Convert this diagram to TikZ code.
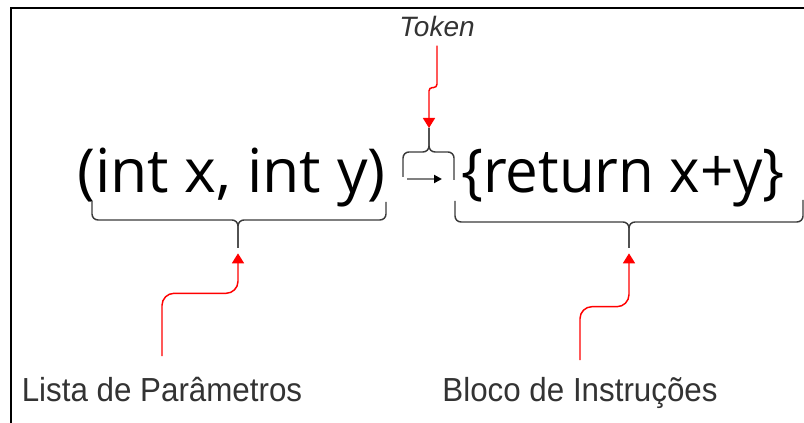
\documentclass[tikz,border=0pt]{standalone}
\usepackage{fontspec}
\setmainfont{Liberation Sans}
\newfontfamily\codefont{Open Sans}
\usetikzlibrary{arrows.meta}
\definecolor{inkgray}{HTML}{333333}
\definecolor{bracegray}{HTML}{3A3A3A}
\definecolor{pointred}{HTML}{FF0000}
\tikzset{
  codetext/.style={font=\codefont\fontsize{45.5pt}{54pt}\selectfont, inner sep=0pt, text=black},
  labeltext/.style={font=\fontsize{25pt}{30pt}\selectfont, inner sep=0pt, text=inkgray, xscale=0.94},
  tokentext/.style={font=\itshape\fontsize{21pt}{25pt}\selectfont, inner sep=0pt, text=inkgray},
  curly/.style={draw=bracegray, line width=1.1pt, rounded corners=4.5pt},
  pointer/.style={draw=pointred, line width=1.1pt, rounded corners=9pt,
    -{Triangle[length=7.5pt,width=9pt]}},
  frame/.style={draw=black, line width=1.1pt}
}
\begin{document}
\begin{tikzpicture}[x=0.75pt,y=-0.75pt]
  \useasboundingbox (0,0) rectangle (804,423);
  % outer frame (top and left edges)
  \draw[frame] (11,423) -- (11,8) -- (804,8);

  % code fragments
  \node[codetext, anchor=base west] (params) at (77,193) {(int x, int y)};
  \node[codetext, anchor=base west, xscale=0.96] (body) at (461,193) {\{return x+y\}};

  % the arrow token between them
  \draw[draw=gray, line width=1.6pt, -{Triangle[length=6pt,width=6pt,color=black]}]
    (407,179) -- (442,179);

  % captions
  \node[tokentext, anchor=base] (token) at (437,37) {Token};
  \node[labeltext, anchor=base] (lista) at (162,402) {Lista de Parâmetros};
  \node[labeltext, anchor=base] (bloco) at (580,402) {Bloco de Instruções};

  % brace tips
  \coordinate (t0) at (429,128);
  \coordinate (b1) at (238,248);
  \coordinate (b2) at (629,248);

  % small brace over the arrow token
  \draw[curly] (403,177) -- (403,152) -- (429,152) -- (t0);
  \draw[curly] (454,180) -- (454,152) -- (429,152) -- (t0);

  % brace under the parameter list
  \draw[curly] (92,202) -- (92,220) -- (238,220) -- (b1);
  \draw[curly] (386,202) -- (386,220) -- (238,220) -- (b1);

  % brace under the instruction block
  \draw[curly] (455,201) -- (455,222) -- (629,222) -- (b2);
  \draw[curly] (803,200) -- (803,222) -- (629,222) -- (b2);

  % red pointers
  \draw[pointer, rounded corners=2.5pt] ([yshift=-6pt]token.south) -- ++(0,42) -- ++(-8,0) -- (t0);
  \draw[pointer, shorten >=4pt] ([yshift=16pt]lista.north) |- ([yshift=-34pt]b1) -- (b1);
  \draw[pointer, shorten >=4pt] ([yshift=13pt]bloco.north) |- ([yshift=-44pt]b2) -- (b2);
\end{tikzpicture}
\end{document}
